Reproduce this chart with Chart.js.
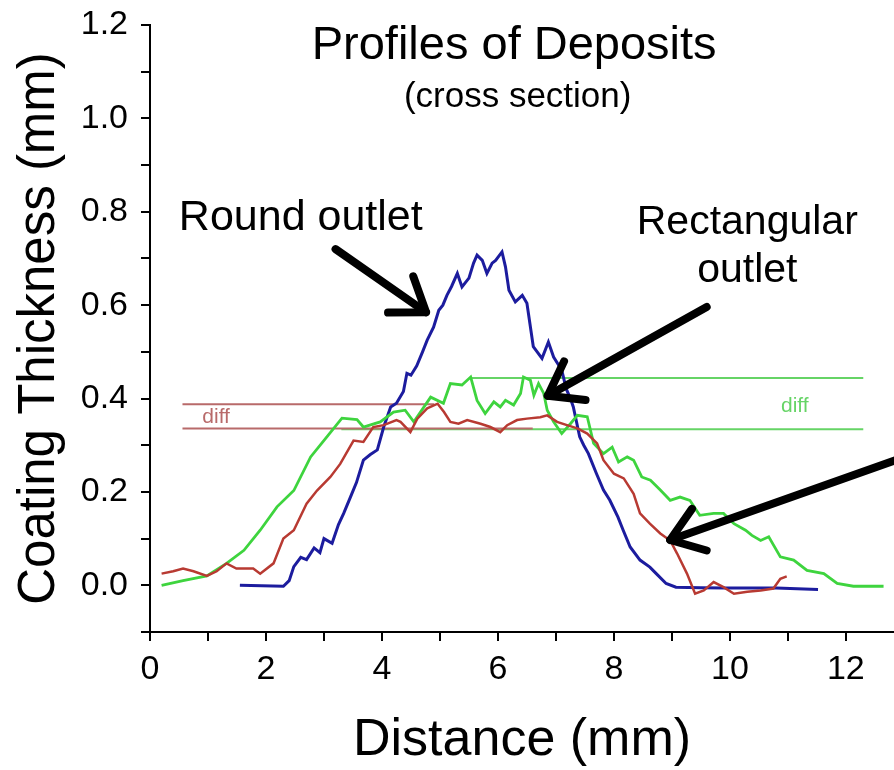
<!DOCTYPE html>
<html>
<head>
<meta charset="utf-8">
<script src="https://cdn.jsdelivr.net/npm/chart.js@4"></script>
<style>
  html, body { margin: 0; padding: 0; background: #fff; }
  #wrap { width: 894px; height: 770px; }
</style>
</head>
<body>
<div id="wrap"><canvas id="chartCanvas" width="894" height="770"></canvas></div>
<script>
// profiles, [distance mm, thickness mm]
const roundOutlet = [
  [1.55, 0.0], [2.3, -0.002], [2.4, 0.01], [2.48, 0.04], [2.6, 0.06], [2.7, 0.055],
  [2.83, 0.08], [2.93, 0.07], [3.0, 0.1], [3.14, 0.09], [3.25, 0.13], [3.34, 0.154],
  [3.46, 0.19], [3.56, 0.22], [3.68, 0.268], [3.8, 0.28], [3.92, 0.29], [4.03, 0.339],
  [4.15, 0.382], [4.25, 0.39], [4.37, 0.415], [4.43, 0.454], [4.5, 0.45], [4.6, 0.47],
  [4.7, 0.5], [4.78, 0.525], [4.89, 0.553], [4.98, 0.589], [5.05, 0.6], [5.12, 0.621],
  [5.2, 0.64], [5.3, 0.668], [5.38, 0.639], [5.5, 0.658], [5.58, 0.69], [5.64, 0.707],
  [5.73, 0.696], [5.81, 0.668], [5.9, 0.69], [5.96, 0.696], [6.07, 0.714], [6.13, 0.682],
  [6.19, 0.632], [6.3, 0.607], [6.42, 0.621], [6.5, 0.604], [6.61, 0.511], [6.76, 0.486],
  [6.87, 0.521], [6.96, 0.489], [7.1, 0.461], [7.18, 0.42], [7.25, 0.4], [7.3, 0.382],
  [7.41, 0.318], [7.48, 0.3], [7.56, 0.282], [7.7, 0.239], [7.82, 0.204], [7.93, 0.182],
  [8.07, 0.146], [8.16, 0.118], [8.28, 0.082], [8.45, 0.054], [8.62, 0.039], [8.73, 0.025],
  [8.9, 0.004], [9.07, -0.004], [9.5, -0.005], [9.93, -0.006], [10.8, -0.006], [11.52, -0.009]
];

const otherOutlet = [
  [0.2, 0.025], [0.4, 0.03], [0.57, 0.036], [0.75, 0.03], [0.98, 0.02], [1.15, 0.03],
  [1.32, 0.047], [1.49, 0.036], [1.78, 0.036], [1.9, 0.025], [2.13, 0.047], [2.3, 0.1],
  [2.48, 0.118], [2.7, 0.175], [2.88, 0.203], [3.11, 0.232], [3.28, 0.26], [3.51, 0.31],
  [3.68, 0.307], [3.85, 0.339], [4.03, 0.343], [4.25, 0.354], [4.32, 0.35], [4.49, 0.328],
  [4.61, 0.357], [4.78, 0.379], [4.96, 0.389], [5.07, 0.371], [5.18, 0.35], [5.32, 0.346],
  [5.47, 0.354], [5.7, 0.346], [5.87, 0.339], [6.04, 0.328], [6.16, 0.343], [6.33, 0.354],
  [6.5, 0.357], [6.73, 0.36], [6.85, 0.364], [7.02, 0.35], [7.19, 0.343], [7.37, 0.336],
  [7.54, 0.325], [7.71, 0.304], [7.82, 0.268], [8.0, 0.239], [8.17, 0.229], [8.34, 0.196],
  [8.45, 0.154], [8.62, 0.132], [8.8, 0.111], [8.97, 0.096], [9.09, 0.068], [9.26, 0.025],
  [9.4, -0.018], [9.55, -0.011], [9.72, 0.007], [9.89, -0.004], [10.07, -0.018], [10.3, -0.014],
  [10.53, -0.011], [10.75, -0.007], [10.87, 0.014], [10.98, 0.019]
];

const rectOutlet = [
  [0.2, 0.0], [0.57, 0.01], [0.98, 0.02], [1.32, 0.047], [1.62, 0.075], [1.9, 0.118],
  [2.19, 0.168], [2.48, 0.203], [2.77, 0.275], [3.05, 0.318], [3.31, 0.358], [3.57, 0.355],
  [3.68, 0.339], [3.97, 0.35], [4.2, 0.371], [4.4, 0.375], [4.55, 0.35], [4.84, 0.403],
  [5.06, 0.39], [5.18, 0.432], [5.38, 0.429], [5.53, 0.446], [5.64, 0.396], [5.78, 0.368],
  [5.93, 0.393], [6.04, 0.382], [6.13, 0.396], [6.27, 0.386], [6.39, 0.411], [6.44, 0.446],
  [6.56, 0.439], [6.62, 0.407], [6.7, 0.432], [6.79, 0.411], [6.85, 0.375], [6.96, 0.35],
  [7.1, 0.325], [7.25, 0.346], [7.37, 0.364], [7.54, 0.361], [7.65, 0.304], [7.82, 0.282],
  [7.97, 0.296], [8.08, 0.264], [8.23, 0.275], [8.34, 0.268], [8.48, 0.232], [8.63, 0.225],
  [8.8, 0.204], [8.97, 0.182], [9.14, 0.189], [9.31, 0.182], [9.48, 0.15], [9.72, 0.154],
  [9.89, 0.154], [10.07, 0.132], [10.27, 0.118], [10.38, 0.107], [10.53, 0.096], [10.67, 0.104],
  [10.87, 0.061], [11.1, 0.054], [11.33, 0.032], [11.62, 0.025], [11.85, 0.004], [12.13, -0.002],
  [12.65, -0.002]
];

// "diff" marker lines: [x start, x end, level]
const redDiff = [[0.56, 4.9, 0.388], [0.56, 6.6, 0.336]];
const greenDiff = [[5.53, 12.3, 0.444], [3.3, 12.3, 0.334]];

const xTicks = [0, 2, 4, 6, 8, 10, 12];
const yTicks = [0.0, 0.2, 0.4, 0.6, 0.8, 1.0, 1.2];

function toPoints(arr) {
  return arr.map(function (p) { return { x: p[0], y: p[1] }; });
}

function diffSets(list, color) {
  return list.map(function (d) {
    return {
      data: [{ x: d[0], y: d[2] }, { x: d[1], y: d[2] }],
      borderColor: color,
      borderWidth: 2,
      pointRadius: 0
    };
  });
}

// texts and arrows, positions in data units
const notes = [
  { text: "Profiles of Deposits", x: 6.28, y: 1.155, size: 47, color: "#000" },
  { text: "(cross section)", x: 6.34, y: 1.045, size: 35, color: "#000" },
  { text: "Round outlet", x: 2.6, y: 0.787, size: 43, color: "#000" },
  { text: "Rectangular", x: 10.3, y: 0.776, size: 41, color: "#000" },
  { text: "outlet", x: 10.3, y: 0.673, size: 41, color: "#000" },
  { text: "diff", x: 1.14, y: 0.36, size: 21, color: "#b86a6a" },
  { text: "diff", x: 11.12, y: 0.384, size: 21, color: "#66d466" }
];
const arrows = [
  { from: [3.2, 0.72], to: [4.76, 0.585] },
  { from: [9.6, 0.596], to: [6.86, 0.406] },
  { from: [13.2, 0.283], to: [8.97, 0.097] }
];

const notesPlugin = {
  id: "notes",
  afterDatasetsDraw(chart) {
    const c = chart.ctx;
    const xs = chart.scales.x;
    const ys = chart.scales.y;
    c.save();
    notes.forEach(function (n) {
      c.font = n.size + "px 'Liberation Sans', Arial, sans-serif";
      c.fillStyle = n.color;
      c.textAlign = "center";
      c.textBaseline = "middle";
      c.fillText(n.text, xs.getPixelForValue(n.x), ys.getPixelForValue(n.y));
    });
    c.strokeStyle = "#000";
    c.lineWidth = 8;
    c.lineCap = "round";
    c.lineJoin = "round";
    arrows.forEach(function (a) {
      const x0 = xs.getPixelForValue(a.from[0]), y0 = ys.getPixelForValue(a.from[1]);
      const x1 = xs.getPixelForValue(a.to[0]), y1 = ys.getPixelForValue(a.to[1]);
      const ang = Math.atan2(y1 - y0, x1 - x0);
      const len = 38, spread = 0.62;
      c.beginPath();
      c.moveTo(x0, y0);
      c.lineTo(x1, y1);
      c.stroke();
      c.beginPath();
      c.moveTo(x1 - len * Math.cos(ang - spread), y1 - len * Math.sin(ang - spread));
      c.lineTo(x1, y1);
      c.lineTo(x1 - len * Math.cos(ang + spread), y1 - len * Math.sin(ang + spread));
      c.stroke();
    });
    c.restore();
  }
};

const font = "'Liberation Sans', Arial, sans-serif";

const datasets = [
  { data: toPoints(otherOutlet), borderColor: "#b83a32", borderWidth: 2.5, pointRadius: 0 },
  { data: toPoints(rectOutlet), borderColor: "#3ed43e", borderWidth: 2.8, pointRadius: 0 },
  { data: toPoints(roundOutlet), borderColor: "#1c1c9e", borderWidth: 3, pointRadius: 0 }
].concat(diffSets(redDiff, "#b86a6a"), diffSets(greenDiff, "#66d466"));

const ctx = document.getElementById("chartCanvas").getContext("2d");
const chart = new Chart(ctx, {
  type: "line",
  data: { datasets: datasets },
  options: {
    animation: false,
    responsive: false,
    layout: { padding: { top: 25, right: 0, left: 0, bottom: 0 } },
    plugins: { legend: { display: false }, tooltip: { enabled: false } },
    scales: {
      x: {
        type: "linear",
        min: 0,
        max: 12.83,
        afterFit(scale) { scale.height = 138; scale.paddingLeft = 0; scale.paddingRight = 0; },
        border: { color: "#000", width: 2 },
        grid: { drawOnChartArea: false, drawTicks: true, tickLength: 9, color: "#000", lineWidth: 2 },
        ticks: {
          stepSize: 1,
          includeBounds: false,
          autoSkip: false,
          maxRotation: 0,
          padding: 8,
          color: "#000",
          font: { family: font, size: 34 },
          callback: function (v) { return xTicks.indexOf(v) >= 0 ? String(v) : ""; }
        },
        title: {
          display: true,
          text: "Distance (mm)",
          color: "#000",
          font: { family: font, size: 52, lineHeight: 1 },
          padding: { top: 0, bottom: 3 }
        }
      },
      y: {
        min: -0.1,
        max: 1.2,
        afterFit(scale) { scale.width = 150; scale.paddingTop = 0; scale.paddingBottom = 0; },
        border: { color: "#000", width: 2 },
        grid: { drawOnChartArea: false, drawTicks: true, tickLength: 9, color: "#000", lineWidth: 2 },
        ticks: {
          stepSize: 0.1,
          autoSkip: false,
          padding: 13,
          color: "#000",
          font: { family: font, size: 34 },
          callback: function (v) {
            const r = Math.round(v * 10) / 10;
            return yTicks.some(function (t) { return Math.abs(t - r) < 1e-6; }) ? r.toFixed(1) : "";
          }
        },
        title: {
          display: true,
          text: "Coating Thickness (mm)",
          color: "#000",
          font: { family: font, size: 51, lineHeight: 1 },
          padding: { top: 14, bottom: 0 }
        }
      }
    }
  },
  plugins: [notesPlugin]
});
</script>
</body>
</html>
